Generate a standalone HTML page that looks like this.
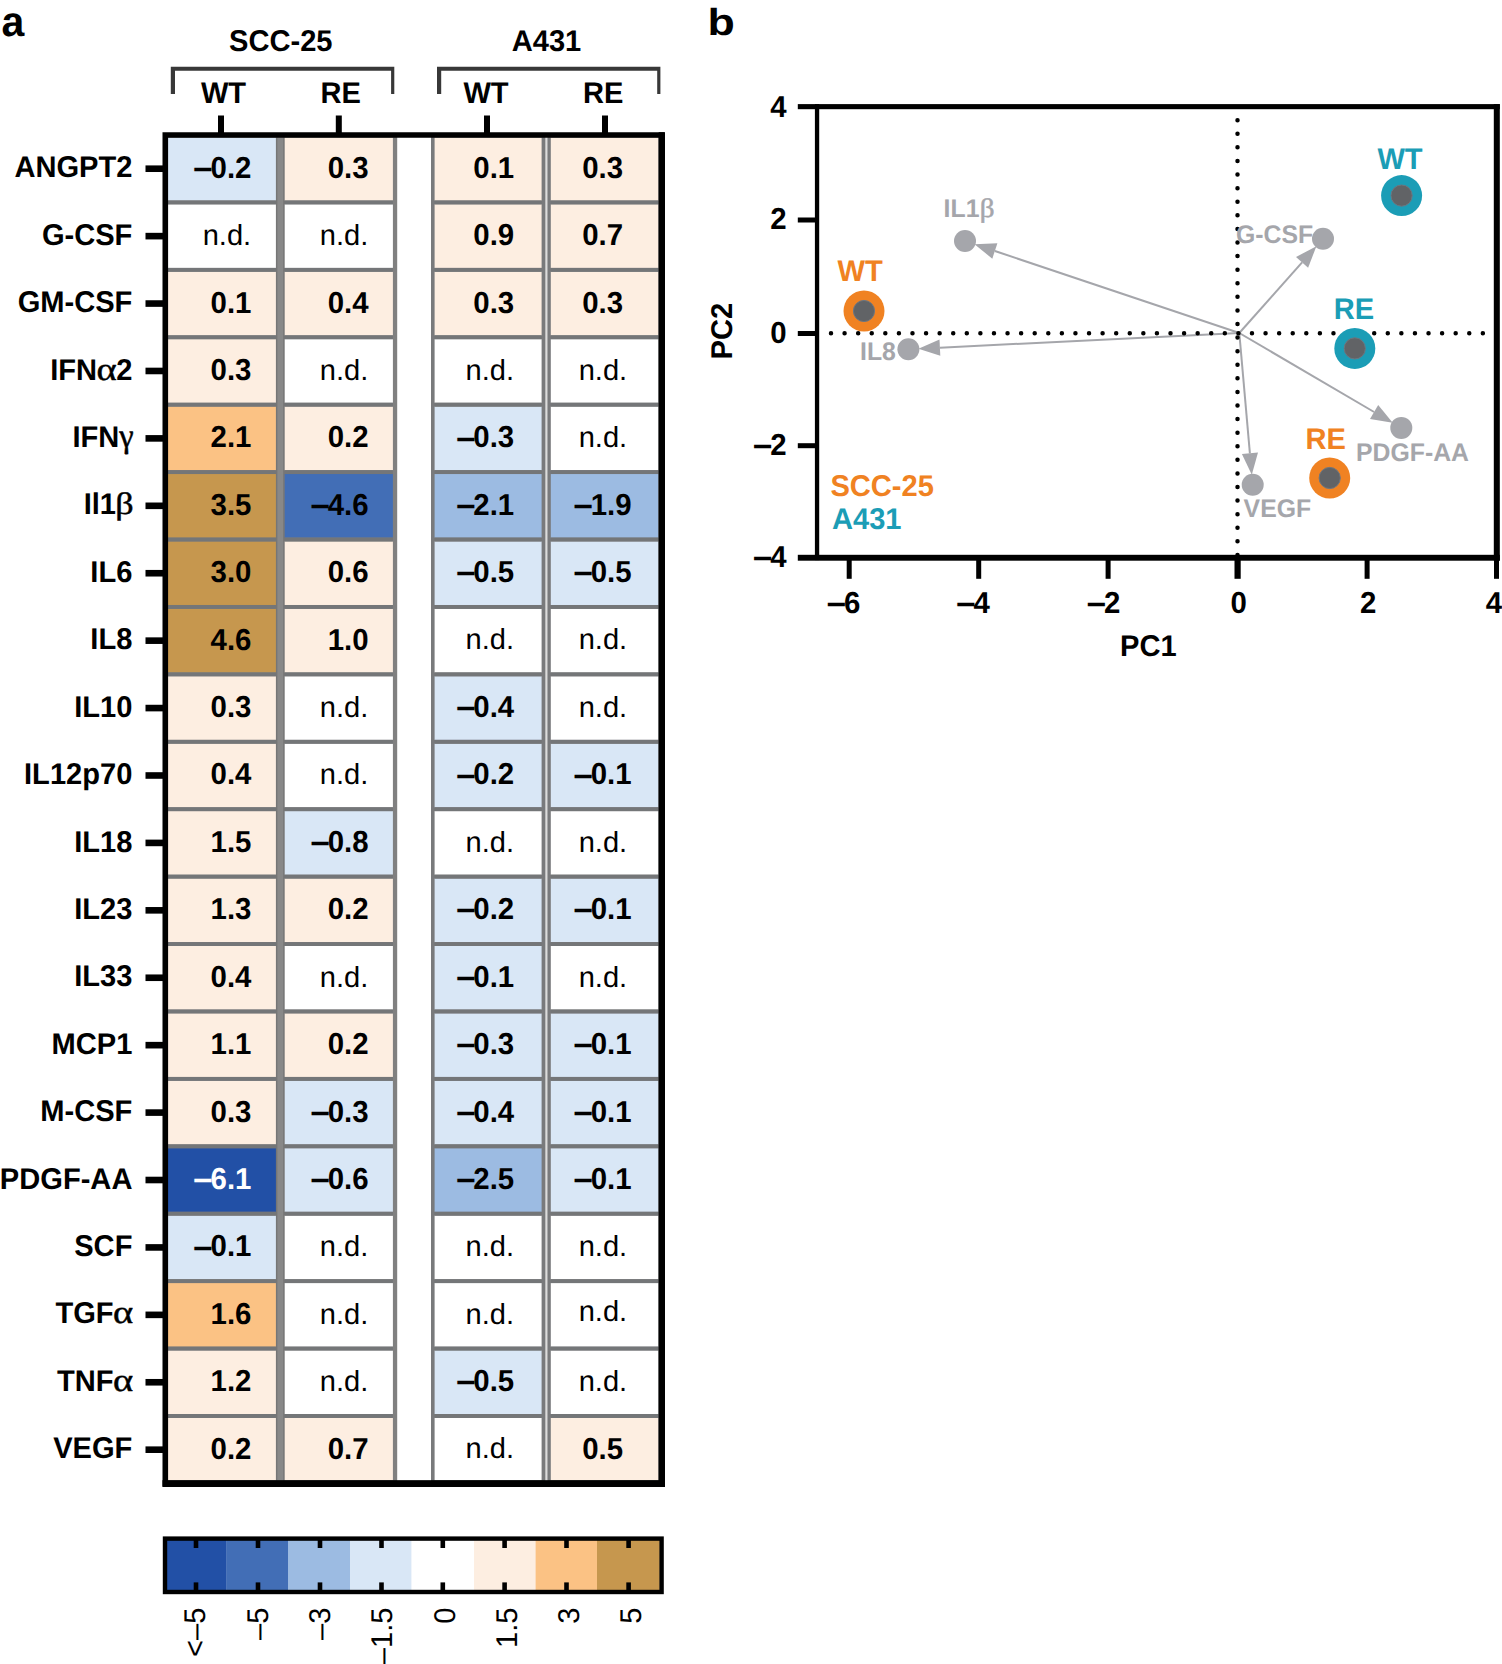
<!DOCTYPE html>
<html lang="en"><head><meta charset="utf-8"><title>Figure</title>
<style>html,body{margin:0;padding:0;background:#fff}svg{display:block}</style></head>
<body>
<svg width="1502" height="1664" viewBox="0 0 1502 1664">
<rect width="1502" height="1664" fill="#fff"/>
<g font-family="'Liberation Sans',sans-serif" font-weight="bold" fill="#000" text-rendering="geometricPrecision">
<text transform="translate(1.5,36) scale(1,1.03)" font-size="41">a</text>
<text transform="translate(707.6,35) scale(1.09,0.915)" font-size="41">b</text>
<rect x="166" y="135" width="231.2" height="1348" fill="#808080"/>
<rect x="275.8" y="135" width="9" height="1348" fill="#767676"/>
<rect x="277.4" y="135" width="5.8" height="1348" fill="#888888"/>
<rect x="431" y="135" width="230" height="1348" fill="#797a7c"/>
<rect x="545.1" y="135" width="2.6" height="1348" fill="#b4b4b4"/>
<rect x="545.7" y="135" width="1.4" height="1348" fill="#dcdcdc"/>
<rect x="168.0" y="137.60" width="107.9" height="62.92" fill="#D9E7F6"/>
<rect x="284.7" y="137.60" width="108.2" height="62.92" fill="#FDEEE1"/>
<rect x="434.6" y="137.60" width="107.0" height="62.92" fill="#FDEEE1"/>
<rect x="550.8" y="137.60" width="107.6" height="62.92" fill="#FDEEE1"/>
<rect x="168.0" y="204.32" width="107.9" height="63.62" fill="#FFFFFF"/>
<rect x="284.7" y="204.32" width="108.2" height="63.62" fill="#FFFFFF"/>
<rect x="434.6" y="204.32" width="107.0" height="63.62" fill="#FDEEE1"/>
<rect x="550.8" y="204.32" width="107.6" height="63.62" fill="#FDEEE1"/>
<rect x="168.0" y="271.74" width="107.9" height="63.62" fill="#FDEEE1"/>
<rect x="284.7" y="271.74" width="108.2" height="63.62" fill="#FDEEE1"/>
<rect x="434.6" y="271.74" width="107.0" height="63.62" fill="#FDEEE1"/>
<rect x="550.8" y="271.74" width="107.6" height="63.62" fill="#FDEEE1"/>
<rect x="168.0" y="339.16" width="107.9" height="63.62" fill="#FDEEE1"/>
<rect x="284.7" y="339.16" width="108.2" height="63.62" fill="#FFFFFF"/>
<rect x="434.6" y="339.16" width="107.0" height="63.62" fill="#FFFFFF"/>
<rect x="550.8" y="339.16" width="107.6" height="63.62" fill="#FFFFFF"/>
<rect x="168.0" y="406.58" width="107.9" height="63.62" fill="#FBC284"/>
<rect x="284.7" y="406.58" width="108.2" height="63.62" fill="#FDEEE1"/>
<rect x="434.6" y="406.58" width="107.0" height="63.62" fill="#D9E7F6"/>
<rect x="550.8" y="406.58" width="107.6" height="63.62" fill="#FFFFFF"/>
<rect x="168.0" y="474.00" width="107.9" height="63.62" fill="#C6974E"/>
<rect x="284.7" y="474.00" width="108.2" height="63.62" fill="#426EB6"/>
<rect x="434.6" y="474.00" width="107.0" height="63.62" fill="#9CBBE2"/>
<rect x="550.8" y="474.00" width="107.6" height="63.62" fill="#9CBBE2"/>
<rect x="168.0" y="541.42" width="107.9" height="63.62" fill="#C6974E"/>
<rect x="284.7" y="541.42" width="108.2" height="63.62" fill="#FDEEE1"/>
<rect x="434.6" y="541.42" width="107.0" height="63.62" fill="#D9E7F6"/>
<rect x="550.8" y="541.42" width="107.6" height="63.62" fill="#D9E7F6"/>
<rect x="168.0" y="608.84" width="107.9" height="63.62" fill="#C6974E"/>
<rect x="284.7" y="608.84" width="108.2" height="63.62" fill="#FDEEE1"/>
<rect x="434.6" y="608.84" width="107.0" height="63.62" fill="#FFFFFF"/>
<rect x="550.8" y="608.84" width="107.6" height="63.62" fill="#FFFFFF"/>
<rect x="168.0" y="676.26" width="107.9" height="63.62" fill="#FDEEE1"/>
<rect x="284.7" y="676.26" width="108.2" height="63.62" fill="#FFFFFF"/>
<rect x="434.6" y="676.26" width="107.0" height="63.62" fill="#D9E7F6"/>
<rect x="550.8" y="676.26" width="107.6" height="63.62" fill="#FFFFFF"/>
<rect x="168.0" y="743.68" width="107.9" height="63.62" fill="#FDEEE1"/>
<rect x="284.7" y="743.68" width="108.2" height="63.62" fill="#FFFFFF"/>
<rect x="434.6" y="743.68" width="107.0" height="63.62" fill="#D9E7F6"/>
<rect x="550.8" y="743.68" width="107.6" height="63.62" fill="#D9E7F6"/>
<rect x="168.0" y="811.10" width="107.9" height="63.62" fill="#FDEEE1"/>
<rect x="284.7" y="811.10" width="108.2" height="63.62" fill="#D9E7F6"/>
<rect x="434.6" y="811.10" width="107.0" height="63.62" fill="#FFFFFF"/>
<rect x="550.8" y="811.10" width="107.6" height="63.62" fill="#FFFFFF"/>
<rect x="168.0" y="878.52" width="107.9" height="63.62" fill="#FDEEE1"/>
<rect x="284.7" y="878.52" width="108.2" height="63.62" fill="#FDEEE1"/>
<rect x="434.6" y="878.52" width="107.0" height="63.62" fill="#D9E7F6"/>
<rect x="550.8" y="878.52" width="107.6" height="63.62" fill="#D9E7F6"/>
<rect x="168.0" y="945.94" width="107.9" height="63.62" fill="#FDEEE1"/>
<rect x="284.7" y="945.94" width="108.2" height="63.62" fill="#FFFFFF"/>
<rect x="434.6" y="945.94" width="107.0" height="63.62" fill="#D9E7F6"/>
<rect x="550.8" y="945.94" width="107.6" height="63.62" fill="#FFFFFF"/>
<rect x="168.0" y="1013.36" width="107.9" height="63.62" fill="#FDEEE1"/>
<rect x="284.7" y="1013.36" width="108.2" height="63.62" fill="#FDEEE1"/>
<rect x="434.6" y="1013.36" width="107.0" height="63.62" fill="#D9E7F6"/>
<rect x="550.8" y="1013.36" width="107.6" height="63.62" fill="#D9E7F6"/>
<rect x="168.0" y="1080.78" width="107.9" height="63.62" fill="#FDEEE1"/>
<rect x="284.7" y="1080.78" width="108.2" height="63.62" fill="#D9E7F6"/>
<rect x="434.6" y="1080.78" width="107.0" height="63.62" fill="#D9E7F6"/>
<rect x="550.8" y="1080.78" width="107.6" height="63.62" fill="#D9E7F6"/>
<rect x="168.0" y="1148.20" width="107.9" height="63.62" fill="#2250A6"/>
<rect x="284.7" y="1148.20" width="108.2" height="63.62" fill="#D9E7F6"/>
<rect x="434.6" y="1148.20" width="107.0" height="63.62" fill="#9CBBE2"/>
<rect x="550.8" y="1148.20" width="107.6" height="63.62" fill="#D9E7F6"/>
<rect x="168.0" y="1215.62" width="107.9" height="63.62" fill="#D9E7F6"/>
<rect x="284.7" y="1215.62" width="108.2" height="63.62" fill="#FFFFFF"/>
<rect x="434.6" y="1215.62" width="107.0" height="63.62" fill="#FFFFFF"/>
<rect x="550.8" y="1215.62" width="107.6" height="63.62" fill="#FFFFFF"/>
<rect x="168.0" y="1283.04" width="107.9" height="63.62" fill="#FBC284"/>
<rect x="284.7" y="1283.04" width="108.2" height="63.62" fill="#FFFFFF"/>
<rect x="434.6" y="1283.04" width="107.0" height="63.62" fill="#FFFFFF"/>
<rect x="550.8" y="1283.04" width="107.6" height="63.62" fill="#FFFFFF"/>
<rect x="168.0" y="1350.46" width="107.9" height="63.62" fill="#FDEEE1"/>
<rect x="284.7" y="1350.46" width="108.2" height="63.62" fill="#FFFFFF"/>
<rect x="434.6" y="1350.46" width="107.0" height="63.62" fill="#D9E7F6"/>
<rect x="550.8" y="1350.46" width="107.6" height="63.62" fill="#FFFFFF"/>
<rect x="168.0" y="1417.88" width="107.9" height="62.42" fill="#FDEEE1"/>
<rect x="284.7" y="1417.88" width="108.2" height="62.42" fill="#FDEEE1"/>
<rect x="434.6" y="1417.88" width="107.0" height="62.42" fill="#FFFFFF"/>
<rect x="550.8" y="1417.88" width="107.6" height="62.42" fill="#FDEEE1"/>
<rect x="168.0" y="200.47" width="107.9" height="3.9" fill="#747678"/>
<rect x="284.7" y="200.47" width="108.2" height="3.9" fill="#747678"/>
<rect x="434.6" y="200.47" width="107.0" height="3.9" fill="#747678"/>
<rect x="550.8" y="200.47" width="107.6" height="3.9" fill="#747678"/>
<rect x="168.0" y="267.89" width="107.9" height="3.9" fill="#747678"/>
<rect x="284.7" y="267.89" width="108.2" height="3.9" fill="#747678"/>
<rect x="434.6" y="267.89" width="107.0" height="3.9" fill="#747678"/>
<rect x="550.8" y="267.89" width="107.6" height="3.9" fill="#747678"/>
<rect x="168.0" y="335.31" width="107.9" height="3.9" fill="#747678"/>
<rect x="284.7" y="335.31" width="108.2" height="3.9" fill="#747678"/>
<rect x="434.6" y="335.31" width="107.0" height="3.9" fill="#747678"/>
<rect x="550.8" y="335.31" width="107.6" height="3.9" fill="#747678"/>
<rect x="168.0" y="402.73" width="107.9" height="3.9" fill="#747678"/>
<rect x="284.7" y="402.73" width="108.2" height="3.9" fill="#747678"/>
<rect x="434.6" y="402.73" width="107.0" height="3.9" fill="#747678"/>
<rect x="550.8" y="402.73" width="107.6" height="3.9" fill="#747678"/>
<rect x="168.0" y="470.15" width="107.9" height="3.9" fill="#747678"/>
<rect x="284.7" y="470.15" width="108.2" height="3.9" fill="#747678"/>
<rect x="434.6" y="470.15" width="107.0" height="3.9" fill="#747678"/>
<rect x="550.8" y="470.15" width="107.6" height="3.9" fill="#747678"/>
<rect x="168.0" y="537.57" width="107.9" height="3.9" fill="#747678"/>
<rect x="284.7" y="537.57" width="108.2" height="3.9" fill="#747678"/>
<rect x="434.6" y="537.57" width="107.0" height="3.9" fill="#747678"/>
<rect x="550.8" y="537.57" width="107.6" height="3.9" fill="#747678"/>
<rect x="168.0" y="604.99" width="107.9" height="3.9" fill="#747678"/>
<rect x="284.7" y="604.99" width="108.2" height="3.9" fill="#747678"/>
<rect x="434.6" y="604.99" width="107.0" height="3.9" fill="#747678"/>
<rect x="550.8" y="604.99" width="107.6" height="3.9" fill="#747678"/>
<rect x="168.0" y="672.41" width="107.9" height="3.9" fill="#747678"/>
<rect x="284.7" y="672.41" width="108.2" height="3.9" fill="#747678"/>
<rect x="434.6" y="672.41" width="107.0" height="3.9" fill="#747678"/>
<rect x="550.8" y="672.41" width="107.6" height="3.9" fill="#747678"/>
<rect x="168.0" y="739.83" width="107.9" height="3.9" fill="#747678"/>
<rect x="284.7" y="739.83" width="108.2" height="3.9" fill="#747678"/>
<rect x="434.6" y="739.83" width="107.0" height="3.9" fill="#747678"/>
<rect x="550.8" y="739.83" width="107.6" height="3.9" fill="#747678"/>
<rect x="168.0" y="807.25" width="107.9" height="3.9" fill="#747678"/>
<rect x="284.7" y="807.25" width="108.2" height="3.9" fill="#747678"/>
<rect x="434.6" y="807.25" width="107.0" height="3.9" fill="#747678"/>
<rect x="550.8" y="807.25" width="107.6" height="3.9" fill="#747678"/>
<rect x="168.0" y="874.67" width="107.9" height="3.9" fill="#747678"/>
<rect x="284.7" y="874.67" width="108.2" height="3.9" fill="#747678"/>
<rect x="434.6" y="874.67" width="107.0" height="3.9" fill="#747678"/>
<rect x="550.8" y="874.67" width="107.6" height="3.9" fill="#747678"/>
<rect x="168.0" y="942.09" width="107.9" height="3.9" fill="#747678"/>
<rect x="284.7" y="942.09" width="108.2" height="3.9" fill="#747678"/>
<rect x="434.6" y="942.09" width="107.0" height="3.9" fill="#747678"/>
<rect x="550.8" y="942.09" width="107.6" height="3.9" fill="#747678"/>
<rect x="168.0" y="1009.51" width="107.9" height="3.9" fill="#747678"/>
<rect x="284.7" y="1009.51" width="108.2" height="3.9" fill="#747678"/>
<rect x="434.6" y="1009.51" width="107.0" height="3.9" fill="#747678"/>
<rect x="550.8" y="1009.51" width="107.6" height="3.9" fill="#747678"/>
<rect x="168.0" y="1076.93" width="107.9" height="3.9" fill="#747678"/>
<rect x="284.7" y="1076.93" width="108.2" height="3.9" fill="#747678"/>
<rect x="434.6" y="1076.93" width="107.0" height="3.9" fill="#747678"/>
<rect x="550.8" y="1076.93" width="107.6" height="3.9" fill="#747678"/>
<rect x="168.0" y="1144.35" width="107.9" height="3.9" fill="#747678"/>
<rect x="284.7" y="1144.35" width="108.2" height="3.9" fill="#747678"/>
<rect x="434.6" y="1144.35" width="107.0" height="3.9" fill="#747678"/>
<rect x="550.8" y="1144.35" width="107.6" height="3.9" fill="#747678"/>
<rect x="168.0" y="1211.77" width="107.9" height="3.9" fill="#747678"/>
<rect x="284.7" y="1211.77" width="108.2" height="3.9" fill="#747678"/>
<rect x="434.6" y="1211.77" width="107.0" height="3.9" fill="#747678"/>
<rect x="550.8" y="1211.77" width="107.6" height="3.9" fill="#747678"/>
<rect x="168.0" y="1279.19" width="107.9" height="3.9" fill="#747678"/>
<rect x="284.7" y="1279.19" width="108.2" height="3.9" fill="#747678"/>
<rect x="434.6" y="1279.19" width="107.0" height="3.9" fill="#747678"/>
<rect x="550.8" y="1279.19" width="107.6" height="3.9" fill="#747678"/>
<rect x="168.0" y="1346.61" width="107.9" height="3.9" fill="#747678"/>
<rect x="284.7" y="1346.61" width="108.2" height="3.9" fill="#747678"/>
<rect x="434.6" y="1346.61" width="107.0" height="3.9" fill="#747678"/>
<rect x="550.8" y="1346.61" width="107.6" height="3.9" fill="#747678"/>
<rect x="168.0" y="1414.03" width="107.9" height="3.9" fill="#747678"/>
<rect x="284.7" y="1414.03" width="108.2" height="3.9" fill="#747678"/>
<rect x="434.6" y="1414.03" width="107.0" height="3.9" fill="#747678"/>
<rect x="550.8" y="1414.03" width="107.6" height="3.9" fill="#747678"/>
<path d="M165.3 135H661.6V1483.6H165.3Z" fill="none" stroke="#000" stroke-width="5.6"/>
<rect x="658.7" y="132.2" width="6.3" height="1354.8" fill="#000"/>
<rect x="162.5" y="1480.2" width="502.5" height="6.8" fill="#000"/>
<rect x="218.0" y="115.5" width="6" height="18" fill="#000"/>
<rect x="335.8" y="115.5" width="6" height="18" fill="#000"/>
<rect x="484.0" y="115.5" width="6" height="18" fill="#000"/>
<rect x="602.0" y="115.5" width="6" height="18" fill="#000"/>
<rect x="145.5" y="165.41" width="18" height="6.6" fill="#000"/>
<text transform="translate(132.4,177.31) scale(1,1.03)" font-size="29.1" text-anchor="end">ANGPT2</text>
<text transform="translate(251.4,177.71) scale(1,1.03)" font-size="29.4" text-anchor="end" fill="#000"><tspan font-size="34.5" dy="1.1">–</tspan><tspan dy="-1.1" dx="-2">0.2</tspan></text>
<text transform="translate(368.6,177.71) scale(1,1.03)" font-size="29.4" text-anchor="end" fill="#000">0.3</text>
<text transform="translate(514.2,177.71) scale(1,1.03)" font-size="29.4" text-anchor="end" fill="#000">0.1</text>
<text transform="translate(602.6,177.71) scale(1,1.03)" font-size="29.4" text-anchor="middle" fill="#000">0.3</text>
<rect x="145.5" y="232.83" width="18" height="6.6" fill="#000"/>
<text transform="translate(132.4,244.73) scale(1,1.03)" font-size="29.1" text-anchor="end">G-CSF</text>
<text x="251.2" y="244.93" font-size="29.1" font-weight="normal" text-anchor="end" fill="#000">n.d.</text>
<text x="368.4" y="244.93" font-size="29.1" font-weight="normal" text-anchor="end" fill="#000">n.d.</text>
<text transform="translate(514.2,245.13) scale(1,1.03)" font-size="29.4" text-anchor="end" fill="#000">0.9</text>
<text transform="translate(602.6,245.13) scale(1,1.03)" font-size="29.4" text-anchor="middle" fill="#000">0.7</text>
<rect x="145.5" y="300.25" width="18" height="6.6" fill="#000"/>
<text transform="translate(132.4,312.15) scale(1,1.03)" font-size="29.1" text-anchor="end">GM-CSF</text>
<text transform="translate(251.4,312.55) scale(1,1.03)" font-size="29.4" text-anchor="end" fill="#000">0.1</text>
<text transform="translate(368.6,312.55) scale(1,1.03)" font-size="29.4" text-anchor="end" fill="#000">0.4</text>
<text transform="translate(514.2,312.55) scale(1,1.03)" font-size="29.4" text-anchor="end" fill="#000">0.3</text>
<text transform="translate(602.6,312.55) scale(1,1.03)" font-size="29.4" text-anchor="middle" fill="#000">0.3</text>
<rect x="145.5" y="367.67" width="18" height="6.6" fill="#000"/>
<text transform="translate(132.4,379.57) scale(1,1.03)" font-size="29.1" text-anchor="end">IFN<tspan font-family="'Liberation Serif',serif" font-weight="normal" stroke="#000" stroke-width="0.45" dx="-0.6" font-size="31.6" textLength="20.2" lengthAdjust="spacingAndGlyphs">α</tspan><tspan dx="-0.4">2</tspan></text>
<text transform="translate(251.4,379.97) scale(1,1.03)" font-size="29.4" text-anchor="end" fill="#000">0.3</text>
<text x="368.4" y="379.77" font-size="29.1" font-weight="normal" text-anchor="end" fill="#000">n.d.</text>
<text x="514.0" y="379.77" font-size="29.1" font-weight="normal" text-anchor="end" fill="#000">n.d.</text>
<text x="602.9" y="379.77" font-size="29.1" font-weight="normal" text-anchor="middle" fill="#000">n.d.</text>
<rect x="145.5" y="435.09" width="18" height="6.6" fill="#000"/>
<text transform="translate(133.7,446.99) scale(1,1.03)" font-size="29.1" text-anchor="end">IFN<tspan font-family="'Liberation Serif',serif" font-weight="normal" stroke="#000" stroke-width="0.45" font-size="32.6">γ</tspan></text>
<text transform="translate(251.4,447.39) scale(1,1.03)" font-size="29.4" text-anchor="end" fill="#000">2.1</text>
<text transform="translate(368.6,447.39) scale(1,1.03)" font-size="29.4" text-anchor="end" fill="#000">0.2</text>
<text transform="translate(514.2,447.39) scale(1,1.03)" font-size="29.4" text-anchor="end" fill="#000"><tspan font-size="34.5" dy="1.1">–</tspan><tspan dy="-1.1" dx="-2">0.3</tspan></text>
<text x="602.9" y="447.19" font-size="29.1" font-weight="normal" text-anchor="middle" fill="#000">n.d.</text>
<rect x="145.5" y="502.51" width="18" height="6.6" fill="#000"/>
<text transform="translate(133.7,514.41) scale(1,1.03)" font-size="29.1" text-anchor="end">Il1<tspan font-family="'Liberation Serif',serif" font-weight="normal" stroke="#000" stroke-width="0.45" dx="-0.7" font-size="29.9" textLength="18.4" lengthAdjust="spacingAndGlyphs">β</tspan></text>
<text transform="translate(251.4,514.81) scale(1,1.03)" font-size="29.4" text-anchor="end" fill="#000">3.5</text>
<text transform="translate(368.6,514.81) scale(1,1.03)" font-size="29.4" text-anchor="end" fill="#000"><tspan font-size="34.5" dy="1.1">–</tspan><tspan dy="-1.1" dx="-2">4.6</tspan></text>
<text transform="translate(514.2,514.81) scale(1,1.03)" font-size="29.4" text-anchor="end" fill="#000"><tspan font-size="34.5" dy="1.1">–</tspan><tspan dy="-1.1" dx="-2">2.1</tspan></text>
<text transform="translate(602.6,514.81) scale(1,1.03)" font-size="29.4" text-anchor="middle" fill="#000"><tspan font-size="34.5" dy="1.1">–</tspan><tspan dy="-1.1" dx="-2">1.9</tspan></text>
<rect x="145.5" y="569.93" width="18" height="6.6" fill="#000"/>
<text transform="translate(132.4,581.83) scale(1,1.03)" font-size="29.1" text-anchor="end">IL6</text>
<text transform="translate(251.4,582.23) scale(1,1.03)" font-size="29.4" text-anchor="end" fill="#000">3.0</text>
<text transform="translate(368.6,582.23) scale(1,1.03)" font-size="29.4" text-anchor="end" fill="#000">0.6</text>
<text transform="translate(514.2,582.23) scale(1,1.03)" font-size="29.4" text-anchor="end" fill="#000"><tspan font-size="34.5" dy="1.1">–</tspan><tspan dy="-1.1" dx="-2">0.5</tspan></text>
<text transform="translate(602.6,582.23) scale(1,1.03)" font-size="29.4" text-anchor="middle" fill="#000"><tspan font-size="34.5" dy="1.1">–</tspan><tspan dy="-1.1" dx="-2">0.5</tspan></text>
<rect x="145.5" y="637.35" width="18" height="6.6" fill="#000"/>
<text transform="translate(132.4,649.25) scale(1,1.03)" font-size="29.1" text-anchor="end">IL8</text>
<text transform="translate(251.4,649.65) scale(1,1.03)" font-size="29.4" text-anchor="end" fill="#000">4.6</text>
<text transform="translate(368.6,649.65) scale(1,1.03)" font-size="29.4" text-anchor="end" fill="#000">1.0</text>
<text x="514.0" y="649.45" font-size="29.1" font-weight="normal" text-anchor="end" fill="#000">n.d.</text>
<text x="602.9" y="649.45" font-size="29.1" font-weight="normal" text-anchor="middle" fill="#000">n.d.</text>
<rect x="145.5" y="704.77" width="18" height="6.6" fill="#000"/>
<text transform="translate(132.4,716.67) scale(1,1.03)" font-size="29.1" text-anchor="end">IL10</text>
<text transform="translate(251.4,717.07) scale(1,1.03)" font-size="29.4" text-anchor="end" fill="#000">0.3</text>
<text x="368.4" y="716.87" font-size="29.1" font-weight="normal" text-anchor="end" fill="#000">n.d.</text>
<text transform="translate(514.2,717.07) scale(1,1.03)" font-size="29.4" text-anchor="end" fill="#000"><tspan font-size="34.5" dy="1.1">–</tspan><tspan dy="-1.1" dx="-2">0.4</tspan></text>
<text x="602.9" y="716.87" font-size="29.1" font-weight="normal" text-anchor="middle" fill="#000">n.d.</text>
<rect x="145.5" y="772.19" width="18" height="6.6" fill="#000"/>
<text transform="translate(132.4,784.09) scale(1,1.03)" font-size="29.1" text-anchor="end">IL12p70</text>
<text transform="translate(251.4,784.49) scale(1,1.03)" font-size="29.4" text-anchor="end" fill="#000">0.4</text>
<text x="368.4" y="784.29" font-size="29.1" font-weight="normal" text-anchor="end" fill="#000">n.d.</text>
<text transform="translate(514.2,784.49) scale(1,1.03)" font-size="29.4" text-anchor="end" fill="#000"><tspan font-size="34.5" dy="1.1">–</tspan><tspan dy="-1.1" dx="-2">0.2</tspan></text>
<text transform="translate(602.6,784.49) scale(1,1.03)" font-size="29.4" text-anchor="middle" fill="#000"><tspan font-size="34.5" dy="1.1">–</tspan><tspan dy="-1.1" dx="-2">0.1</tspan></text>
<rect x="145.5" y="839.61" width="18" height="6.6" fill="#000"/>
<text transform="translate(132.4,851.51) scale(1,1.03)" font-size="29.1" text-anchor="end">IL18</text>
<text transform="translate(251.4,851.91) scale(1,1.03)" font-size="29.4" text-anchor="end" fill="#000">1.5</text>
<text transform="translate(368.6,851.91) scale(1,1.03)" font-size="29.4" text-anchor="end" fill="#000"><tspan font-size="34.5" dy="1.1">–</tspan><tspan dy="-1.1" dx="-2">0.8</tspan></text>
<text x="514.0" y="851.71" font-size="29.1" font-weight="normal" text-anchor="end" fill="#000">n.d.</text>
<text x="602.9" y="851.71" font-size="29.1" font-weight="normal" text-anchor="middle" fill="#000">n.d.</text>
<rect x="145.5" y="907.03" width="18" height="6.6" fill="#000"/>
<text transform="translate(132.4,918.93) scale(1,1.03)" font-size="29.1" text-anchor="end">IL23</text>
<text transform="translate(251.4,919.33) scale(1,1.03)" font-size="29.4" text-anchor="end" fill="#000">1.3</text>
<text transform="translate(368.6,919.33) scale(1,1.03)" font-size="29.4" text-anchor="end" fill="#000">0.2</text>
<text transform="translate(514.2,919.33) scale(1,1.03)" font-size="29.4" text-anchor="end" fill="#000"><tspan font-size="34.5" dy="1.1">–</tspan><tspan dy="-1.1" dx="-2">0.2</tspan></text>
<text transform="translate(602.6,919.33) scale(1,1.03)" font-size="29.4" text-anchor="middle" fill="#000"><tspan font-size="34.5" dy="1.1">–</tspan><tspan dy="-1.1" dx="-2">0.1</tspan></text>
<rect x="145.5" y="974.45" width="18" height="6.6" fill="#000"/>
<text transform="translate(132.4,986.35) scale(1,1.03)" font-size="29.1" text-anchor="end">IL33</text>
<text transform="translate(251.4,986.75) scale(1,1.03)" font-size="29.4" text-anchor="end" fill="#000">0.4</text>
<text x="368.4" y="986.55" font-size="29.1" font-weight="normal" text-anchor="end" fill="#000">n.d.</text>
<text transform="translate(514.2,986.75) scale(1,1.03)" font-size="29.4" text-anchor="end" fill="#000"><tspan font-size="34.5" dy="1.1">–</tspan><tspan dy="-1.1" dx="-2">0.1</tspan></text>
<text x="602.9" y="986.55" font-size="29.1" font-weight="normal" text-anchor="middle" fill="#000">n.d.</text>
<rect x="145.5" y="1041.87" width="18" height="6.6" fill="#000"/>
<text transform="translate(132.4,1053.77) scale(1,1.03)" font-size="29.1" text-anchor="end">MCP1</text>
<text transform="translate(251.4,1054.17) scale(1,1.03)" font-size="29.4" text-anchor="end" fill="#000">1.1</text>
<text transform="translate(368.6,1054.17) scale(1,1.03)" font-size="29.4" text-anchor="end" fill="#000">0.2</text>
<text transform="translate(514.2,1054.17) scale(1,1.03)" font-size="29.4" text-anchor="end" fill="#000"><tspan font-size="34.5" dy="1.1">–</tspan><tspan dy="-1.1" dx="-2">0.3</tspan></text>
<text transform="translate(602.6,1054.17) scale(1,1.03)" font-size="29.4" text-anchor="middle" fill="#000"><tspan font-size="34.5" dy="1.1">–</tspan><tspan dy="-1.1" dx="-2">0.1</tspan></text>
<rect x="145.5" y="1109.29" width="18" height="6.6" fill="#000"/>
<text transform="translate(132.4,1121.19) scale(1,1.03)" font-size="29.1" text-anchor="end">M-CSF</text>
<text transform="translate(251.4,1121.59) scale(1,1.03)" font-size="29.4" text-anchor="end" fill="#000">0.3</text>
<text transform="translate(368.6,1121.59) scale(1,1.03)" font-size="29.4" text-anchor="end" fill="#000"><tspan font-size="34.5" dy="1.1">–</tspan><tspan dy="-1.1" dx="-2">0.3</tspan></text>
<text transform="translate(514.2,1121.59) scale(1,1.03)" font-size="29.4" text-anchor="end" fill="#000"><tspan font-size="34.5" dy="1.1">–</tspan><tspan dy="-1.1" dx="-2">0.4</tspan></text>
<text transform="translate(602.6,1121.59) scale(1,1.03)" font-size="29.4" text-anchor="middle" fill="#000"><tspan font-size="34.5" dy="1.1">–</tspan><tspan dy="-1.1" dx="-2">0.1</tspan></text>
<rect x="145.5" y="1176.71" width="18" height="6.6" fill="#000"/>
<text transform="translate(132.4,1188.61) scale(1,1.03)" font-size="29.1" text-anchor="end">PDGF-AA</text>
<text transform="translate(251.4,1189.01) scale(1,1.03)" font-size="29.4" text-anchor="end" fill="#fff"><tspan font-size="34.5" dy="1.1">–</tspan><tspan dy="-1.1" dx="-2">6.1</tspan></text>
<text transform="translate(368.6,1189.01) scale(1,1.03)" font-size="29.4" text-anchor="end" fill="#000"><tspan font-size="34.5" dy="1.1">–</tspan><tspan dy="-1.1" dx="-2">0.6</tspan></text>
<text transform="translate(514.2,1189.01) scale(1,1.03)" font-size="29.4" text-anchor="end" fill="#000"><tspan font-size="34.5" dy="1.1">–</tspan><tspan dy="-1.1" dx="-2">2.5</tspan></text>
<text transform="translate(602.6,1189.01) scale(1,1.03)" font-size="29.4" text-anchor="middle" fill="#000"><tspan font-size="34.5" dy="1.1">–</tspan><tspan dy="-1.1" dx="-2">0.1</tspan></text>
<rect x="145.5" y="1244.13" width="18" height="6.6" fill="#000"/>
<text transform="translate(132.4,1256.03) scale(1,1.03)" font-size="29.1" text-anchor="end">SCF</text>
<text transform="translate(251.4,1256.43) scale(1,1.03)" font-size="29.4" text-anchor="end" fill="#000"><tspan font-size="34.5" dy="1.1">–</tspan><tspan dy="-1.1" dx="-2">0.1</tspan></text>
<text x="368.4" y="1256.23" font-size="29.1" font-weight="normal" text-anchor="end" fill="#000">n.d.</text>
<text x="514.0" y="1256.23" font-size="29.1" font-weight="normal" text-anchor="end" fill="#000">n.d.</text>
<text x="602.9" y="1256.23" font-size="29.1" font-weight="normal" text-anchor="middle" fill="#000">n.d.</text>
<rect x="145.5" y="1311.55" width="18" height="6.6" fill="#000"/>
<text transform="translate(133.3,1323.45) scale(1,1.03)" font-size="29.1" text-anchor="end">TGF<tspan font-family="'Liberation Serif',serif" font-weight="normal" stroke="#000" stroke-width="0.45" dx="-0.5" font-size="31.6" textLength="20.2" lengthAdjust="spacingAndGlyphs">α</tspan></text>
<text transform="translate(251.4,1323.85) scale(1,1.03)" font-size="29.4" text-anchor="end" fill="#000">1.6</text>
<text x="368.4" y="1323.65" font-size="29.1" font-weight="normal" text-anchor="end" fill="#000">n.d.</text>
<text x="514.0" y="1323.65" font-size="29.1" font-weight="normal" text-anchor="end" fill="#000">n.d.</text>
<text x="602.9" y="1321.15" font-size="29.1" font-weight="normal" text-anchor="middle" fill="#000">n.d.</text>
<rect x="145.5" y="1378.97" width="18" height="6.6" fill="#000"/>
<text transform="translate(133.3,1390.87) scale(1,1.03)" font-size="29.1" text-anchor="end">TNF<tspan font-family="'Liberation Serif',serif" font-weight="normal" stroke="#000" stroke-width="0.45" dx="-0.5" font-size="31.6" textLength="20.2" lengthAdjust="spacingAndGlyphs">α</tspan></text>
<text transform="translate(251.4,1391.27) scale(1,1.03)" font-size="29.4" text-anchor="end" fill="#000">1.2</text>
<text x="368.4" y="1391.07" font-size="29.1" font-weight="normal" text-anchor="end" fill="#000">n.d.</text>
<text transform="translate(514.2,1391.27) scale(1,1.03)" font-size="29.4" text-anchor="end" fill="#000"><tspan font-size="34.5" dy="1.1">–</tspan><tspan dy="-1.1" dx="-2">0.5</tspan></text>
<text x="602.9" y="1391.07" font-size="29.1" font-weight="normal" text-anchor="middle" fill="#000">n.d.</text>
<rect x="145.5" y="1446.39" width="18" height="6.6" fill="#000"/>
<text transform="translate(132.4,1458.29) scale(1,1.03)" font-size="29.1" text-anchor="end">VEGF</text>
<text transform="translate(251.4,1458.69) scale(1,1.03)" font-size="29.4" text-anchor="end" fill="#000">0.2</text>
<text transform="translate(368.6,1458.69) scale(1,1.03)" font-size="29.4" text-anchor="end" fill="#000">0.7</text>
<text x="514.0" y="1458.49" font-size="29.1" font-weight="normal" text-anchor="end" fill="#000">n.d.</text>
<text transform="translate(602.6,1458.69) scale(1,1.03)" font-size="29.4" text-anchor="middle" fill="#000">0.5</text>
<text transform="translate(280.8,51.2) scale(1,1.03)" font-size="29.1" text-anchor="middle">SCC-25</text>
<text transform="translate(546.5,51.2) scale(1,1.03)" font-size="29.1" text-anchor="middle">A431</text>
<text transform="translate(223.5,103) scale(1,1.03)" font-size="29.1" text-anchor="middle">WT</text>
<text transform="translate(340.8,103) scale(1,1.03)" font-size="29.1" text-anchor="middle">RE</text>
<text transform="translate(486,103) scale(1,1.03)" font-size="29.1" text-anchor="middle">WT</text>
<text transform="translate(603.2,103) scale(1,1.03)" font-size="29.1" text-anchor="middle">RE</text>
<path d="M170.8 94V66.8H394.3V94H391.1V70.7H175.0V94Z" fill="#383838"/>
<path d="M437.0 94V66.8H660.4V94H657.1999999999999V70.7H441.2V94Z" fill="#383838"/>
<rect x="167" y="1540" width="59.7" height="50" fill="#2250A6"/>
<rect x="226.4" y="1540" width="62.1" height="50" fill="#426EB6"/>
<rect x="288.2" y="1540" width="62.1" height="50" fill="#9CBBE2"/>
<rect x="350" y="1540" width="61.8" height="50" fill="#D9E7F6"/>
<rect x="411.5" y="1540" width="62.8" height="50" fill="#FFFFFF"/>
<rect x="474" y="1540" width="61.9" height="50" fill="#FDEEE1"/>
<rect x="535.6" y="1540" width="61.7" height="50" fill="#FBC284"/>
<rect x="597" y="1540" width="62.9" height="50" fill="#C6974E"/>
<rect x="165" y="1538.6" width="496.6" height="53.4" fill="none" stroke="#000" stroke-width="4.4"/>
<rect x="193.7" y="1540" width="4.6" height="8" fill="#000"/>
<rect x="193.7" y="1582.4" width="4.6" height="8" fill="#000"/>
<text transform="translate(205.4,1607.6) rotate(-90) scale(1,1.03)" font-size="29.1" font-weight="normal" text-anchor="end">&lt;–5</text>
<rect x="255.7" y="1540" width="4.6" height="8" fill="#000"/>
<rect x="255.7" y="1582.4" width="4.6" height="8" fill="#000"/>
<text transform="translate(267.7,1607.6) rotate(-90) scale(1,1.03)" font-size="29.1" font-weight="normal" text-anchor="end">–5</text>
<rect x="317.7" y="1540" width="4.6" height="8" fill="#000"/>
<rect x="317.7" y="1582.4" width="4.6" height="8" fill="#000"/>
<text transform="translate(330.0,1607.6) rotate(-90) scale(1,1.03)" font-size="29.1" font-weight="normal" text-anchor="end">–3</text>
<rect x="379.2" y="1540" width="4.6" height="8" fill="#000"/>
<rect x="379.2" y="1582.4" width="4.6" height="8" fill="#000"/>
<text transform="translate(392.3,1607.6) rotate(-90) scale(1,1.03)" font-size="29.1" font-weight="normal" text-anchor="end">–1.5</text>
<rect x="440.5" y="1540" width="4.6" height="8" fill="#000"/>
<rect x="440.5" y="1582.4" width="4.6" height="8" fill="#000"/>
<text transform="translate(454.6,1607.6) rotate(-90) scale(1,1.03)" font-size="29.1" font-weight="normal" text-anchor="end">0</text>
<rect x="502.3" y="1540" width="4.6" height="8" fill="#000"/>
<rect x="502.3" y="1582.4" width="4.6" height="8" fill="#000"/>
<text transform="translate(516.9,1607.6) rotate(-90) scale(1,1.03)" font-size="29.1" font-weight="normal" text-anchor="end">1.5</text>
<rect x="564.2" y="1540" width="4.6" height="8" fill="#000"/>
<rect x="564.2" y="1582.4" width="4.6" height="8" fill="#000"/>
<text transform="translate(579.1,1607.6) rotate(-90) scale(1,1.03)" font-size="29.1" font-weight="normal" text-anchor="end">3</text>
<rect x="626.3" y="1540" width="4.6" height="8" fill="#000"/>
<rect x="626.3" y="1582.4" width="4.6" height="8" fill="#000"/>
<text transform="translate(641.4,1607.6) rotate(-90) scale(1,1.03)" font-size="29.1" font-weight="normal" text-anchor="end">5</text>
<rect x="814.9" y="104.1" width="4.3" height="456" fill="#000"/>
<rect x="797.8" y="104.1" width="702" height="5.1" fill="#000"/>
<rect x="1493.8" y="104.1" width="6" height="456.6" fill="#000"/>
<rect x="797.8" y="554.8" width="702" height="5.9" fill="#000"/>
<text transform="translate(786.6,116.5) scale(1,1.03)" font-size="29.4" text-anchor="end">4</text>
<rect x="797.8" y="217.5" width="19" height="5" fill="#000"/>
<text transform="translate(786.6,229.2) scale(1,1.03)" font-size="29.4" text-anchor="end">2</text>
<rect x="797.8" y="331.0" width="19" height="5" fill="#000"/>
<text transform="translate(786.6,343) scale(1,1.03)" font-size="29.4" text-anchor="end">0</text>
<rect x="797.8" y="443.2" width="19" height="5" fill="#000"/>
<text transform="translate(786.6,454.8) scale(1,1.03)" font-size="29.4" text-anchor="end"><tspan font-size="34.5" dy="1.1">–</tspan><tspan dy="-1.1" dx="-2">2</tspan></text>
<text transform="translate(786.6,567.3) scale(1,1.03)" font-size="29.4" text-anchor="end"><tspan font-size="34.5" dy="1.1">–</tspan><tspan dy="-1.1" dx="-2">4</tspan></text>
<rect x="846.7" y="557" width="5" height="21.8" fill="#000"/>
<text transform="translate(860.4,612.6) scale(1,1.03)" font-size="29.4" text-anchor="end"><tspan font-size="34.5" dy="1.1">–</tspan><tspan dy="-1.1" dx="-2">6</tspan></text>
<rect x="976.2" y="557" width="5" height="21.8" fill="#000"/>
<text transform="translate(989.9,612.6) scale(1,1.03)" font-size="29.4" text-anchor="end"><tspan font-size="34.5" dy="1.1">–</tspan><tspan dy="-1.1" dx="-2">4</tspan></text>
<rect x="1105.6" y="557" width="5" height="21.8" fill="#000"/>
<text transform="translate(1120.3,612.6) scale(1,1.03)" font-size="29.4" text-anchor="end"><tspan font-size="34.5" dy="1.1">–</tspan><tspan dy="-1.1" dx="-2">2</tspan></text>
<rect x="1234.5" y="557" width="6.2" height="21.8" fill="#000"/>
<text transform="translate(1238.6,612.6) scale(1,1.03)" font-size="29.4" text-anchor="middle">0</text>
<rect x="1364.6" y="557" width="5" height="21.8" fill="#000"/>
<text transform="translate(1368.1,612.6) scale(1,1.03)" font-size="29.4" text-anchor="middle">2</text>
<rect x="1494.0" y="557" width="5" height="21.8" fill="#000"/>
<text transform="translate(1493.8,612.6) scale(1,1.03)" font-size="29.4" text-anchor="middle">4</text>
<text transform="translate(1120,656.3) scale(1,1.03)" font-size="29.1">PC1</text>
<text transform="translate(731.6,359.4) rotate(-90) scale(1,1.03)" font-size="29.1">PC2</text>
<path d="M1239.3 333.0L994.9 251.0" stroke="#A5A6AB" stroke-width="2" fill="none"/>
<path d="M1239.3 333.0L939.9 347.7" stroke="#A5A6AB" stroke-width="2" fill="none"/>
<path d="M1239.3 333.0L1302.1 262.3" stroke="#A5A6AB" stroke-width="2" fill="none"/>
<path d="M1239.3 333.0L1374.1 412.0" stroke="#A5A6AB" stroke-width="2" fill="none"/>
<path d="M1239.3 333.0L1249.9 453.3" stroke="#A5A6AB" stroke-width="2" fill="none"/>
<path d="M831 333.2H1490" fill="none" stroke="#000" stroke-width="4.5" stroke-linecap="round" stroke-dasharray="0 13.58"/>
<path d="M1237.5 120.2V556" fill="none" stroke="#000" stroke-width="4.5" stroke-linecap="round" stroke-dasharray="0 13.585"/>
<path d="M974.5 244.2L997.4 243.3L992.3 258.7Z" fill="#A5A6AB"/>
<circle cx="965" cy="241" r="11" fill="#A5A6AB"/>
<path d="M918.4 348.7L939.5 339.6L940.3 355.7Z" fill="#A5A6AB"/>
<circle cx="908.4" cy="349.2" r="11" fill="#A5A6AB"/>
<path d="M1316.4 246.3L1308.1 267.7L1296.0 257.0Z" fill="#A5A6AB"/>
<circle cx="1323" cy="238.8" r="11" fill="#A5A6AB"/>
<path d="M1392.7 422.8L1370.0 419.0L1378.2 405.0Z" fill="#A5A6AB"/>
<circle cx="1401.3" cy="427.9" r="11" fill="#A5A6AB"/>
<path d="M1251.8 474.7L1241.9 454.0L1258.0 452.6Z" fill="#A5A6AB"/>
<circle cx="1252.7" cy="484.7" r="11" fill="#A5A6AB"/>
<text transform="translate(943.6,217) scale(1,1.03)" font-size="24.8" fill="#A5A6AB">IL1<tspan font-family="'Liberation Serif',serif" font-weight="normal" stroke="#A5A6AB" stroke-width="0.5" dx="0.3" font-size="25.9" textLength="14.8" lengthAdjust="spacingAndGlyphs">β</tspan></text>
<text transform="translate(860,359.6) scale(1,1.03)" font-size="24.8" fill="#A5A6AB">IL8</text>
<text transform="translate(1236,242.8) scale(1,1.03)" font-size="24.8" fill="#A5A6AB">G-CSF</text>
<text transform="translate(1356,461) scale(1,1.03)" font-size="24.8" fill="#A5A6AB">PDGF-AA</text>
<text transform="translate(1243.6,517.4) scale(1,1.03)" font-size="24.8" fill="#A5A6AB">VEGF</text>
<circle cx="864" cy="311" r="20.5" fill="#F08222"/>
<circle cx="864" cy="311" r="10.6" fill="#616366" stroke="#6d7680" stroke-width="1"/>
<circle cx="1329.7" cy="478" r="20.5" fill="#F08222"/>
<circle cx="1329.7" cy="478" r="10.6" fill="#616366" stroke="#6d7680" stroke-width="1"/>
<circle cx="1401.6" cy="195.6" r="20.5" fill="#1B9DB6"/>
<circle cx="1401.6" cy="195.6" r="10.6" fill="#616366" stroke="#6d7680" stroke-width="1"/>
<circle cx="1354.8" cy="348.4" r="20.5" fill="#1B9DB6"/>
<circle cx="1354.8" cy="348.4" r="10.6" fill="#616366" stroke="#6d7680" stroke-width="1"/>
<text transform="translate(860.2,281) scale(1,1.03)" font-size="29.1" fill="#F08222" text-anchor="middle">WT</text>
<text transform="translate(1325.6,449.3) scale(1,1.03)" font-size="29.1" fill="#F08222" text-anchor="middle">RE</text>
<text transform="translate(1400,168.5) scale(1,1.03)" font-size="29.1" fill="#1B9DB6" text-anchor="middle">WT</text>
<text transform="translate(1354,318.8) scale(1,1.03)" font-size="29.1" fill="#1B9DB6" text-anchor="middle">RE</text>
<text transform="translate(830.4,496.3) scale(1,1.03)" font-size="29.1" fill="#F08222">SCC-25</text>
<text transform="translate(832,529) scale(1,1.03)" font-size="29.1" fill="#1B9DB6">A431</text>
</g></svg>
</body></html>
